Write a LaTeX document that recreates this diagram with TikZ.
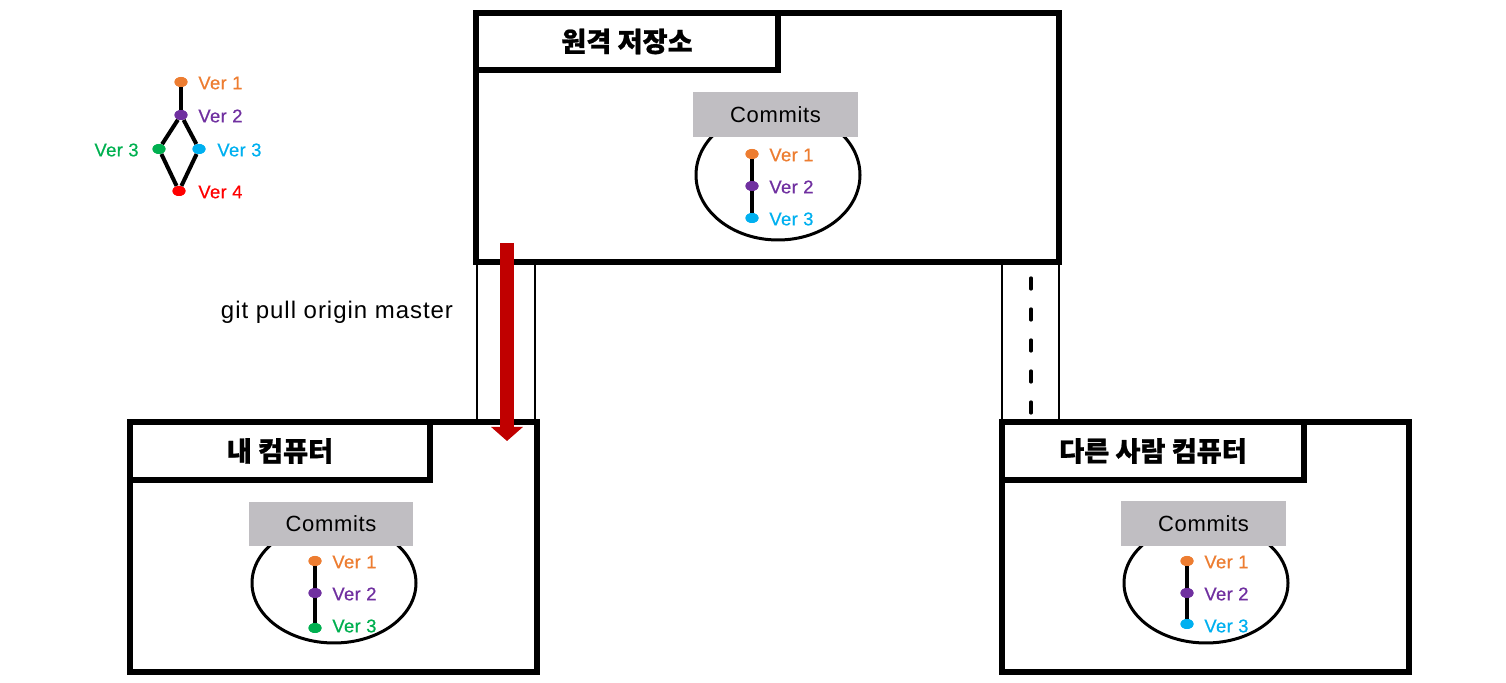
\documentclass[tikz,border=0pt]{standalone}
\usepackage{fontspec}
\setmainfont{Noto Sans CJK KR}
\newfontfamily\lat{Liberation Sans}
\usetikzlibrary{arrows.meta,shapes.geometric}
\definecolor{cOrange}{HTML}{ED7D31}
\definecolor{cPurple}{HTML}{7030A0}
\definecolor{cCyan}{HTML}{00B0F0}
\definecolor{cGreen}{HTML}{00B050}
\definecolor{cRed}{HTML}{FF0000}
\definecolor{cDark}{HTML}{C00000}
\definecolor{cGray}{HTML}{C0BEC2}
\tikzset{
  bigbox/.style={draw=black, line width=2.8pt, inner sep=0pt, outer sep=0pt, anchor=north west, fill=white},
  titlebox/.style={draw=black, line width=2.8pt, inner sep=0pt, outer sep=0pt, anchor=north west, font=\bfseries\addfontfeature{FakeBold=0.8}\fontsize{13.6}{15}\selectfont},
  pipe/.style={draw=black, line width=1.2pt, inner sep=0pt, outer sep=0pt, anchor=north west},
  commitbox/.style={fill=cGray, inner sep=0pt, minimum width=82.5pt, minimum height=22.5pt, font=\lat\addfontfeature{LetterSpace=3}\fontsize{11}{12}\selectfont},
  oval/.style={ellipse, draw=black, line width=1.5pt, inner sep=0pt, minimum width=82pt},
  dot/.style={ellipse, fill=#1, inner sep=0pt, minimum width=6.5pt, minimum height=5pt},
  ver/.style={text=#1, font=\lat\addfontfeature{FakeBold=0.6,LetterSpace=2}\fontsize{9.2}{10}\selectfont, inner sep=0pt},
  stem/.style={line width=2pt, black},
}
\begin{document}
\begin{tikzpicture}[x=0.5pt,y=-0.5pt]
\useasboundingbox (0,0) rectangle (1506,683);

% version graph (top left)
\node[dot=cOrange] (g1) at (181,82) {};
\node[dot=cPurple] (g2) at (181,115) {};
\node[dot=cGreen] (g3a) at (159,149) {};
\node[dot=cCyan] (g3b) at (199,149) {};
\node[dot=cRed] (g4) at (179,191) {};
\draw[stem] (g1) -- (g2);
\draw[stem] (g2) -- (g3a) -- (g4);
\draw[stem] (g2) -- (g3b) -- (g4);
\node[dot=cOrange] at (g1) {};
\node[dot=cPurple] at (g2) {};
\node[dot=cGreen] at (g3a) {};
\node[dot=cCyan] at (g3b) {};
\node[dot=cRed] at (g4) {};
\node[ver=cOrange, anchor=west] (gl1) at (198,83) {Ver 1};
\node[ver=cPurple, anchor=west] (gl2) at (198,116) {Ver 2};
\node[ver=cGreen, anchor=east] (gl3a) at (139,150) {Ver 3};
\node[ver=cCyan, anchor=west] (gl3b) at (217,150) {Ver 3};
\node[ver=cRed, anchor=west] (gl4) at (198,192) {Ver 4};

% pipes
\node[pipe, minimum width=29pt, minimum height=79.5pt] (pipeL) at (477,262) {};
\node[pipe, minimum width=28.5pt, minimum height=79.5pt] (pipeR) at (1002,262) {};

% remote repository
\node[bigbox, minimum width=291.5pt, minimum height=124.5pt] (remote) at (476,13) {};
\node[titlebox, minimum width=151pt, minimum height=28.5pt] (remoteT) at (476,13) {원격 저장소};
\node[oval, minimum height=65pt] (remoteO) at (778,175) {};
\node[commitbox] (remoteC) at (775.5,114.5) {Commits};
\node[dot=cOrange] (r1) at (752,154) {};
\node[dot=cPurple] (r2) at (752,186) {};
\node[dot=cCyan] (r3) at (752,218) {};
\draw[stem] (r1) -- (r3);
\node[dot=cOrange] at (r1) {};
\node[dot=cPurple] at (r2) {};
\node[dot=cCyan] at (r3) {};
\node[ver=cOrange, anchor=west] at (769,155) {Ver 1};
\node[ver=cPurple, anchor=west] at (769,187) {Ver 2};
\node[ver=cCyan, anchor=west] at (769,219) {Ver 3};

% my computer
\node[bigbox, minimum width=203.5pt, minimum height=125pt] (mine) at (130,422) {};
\node[titlebox, minimum width=150pt, minimum height=29pt] (mineT) at (130,422) {내 컴퓨터};
\node[oval, minimum height=60pt] (mineO) at (334,583) {};
\node[commitbox, minimum width=82pt, minimum height=22pt] (mineC) at (331,524) {Commits};
\node[dot=cOrange] (m1) at (315,561) {};
\node[dot=cPurple] (m2) at (315,593) {};
\node[dot=cGreen] (m3) at (315,628) {};
\draw[stem] (m1) -- (m3);
\node[dot=cOrange] at (m1) {};
\node[dot=cPurple] at (m2) {};
\node[dot=cGreen] at (m3) {};
\node[ver=cOrange, anchor=west] at (332,562) {Ver 1};
\node[ver=cPurple, anchor=west] at (332,594) {Ver 2};
\node[ver=cGreen, anchor=west] at (332,626) {Ver 3};

% other person's computer
\node[bigbox, minimum width=203.5pt, minimum height=125pt] (other) at (1002,422) {};
\node[titlebox, minimum width=151pt, minimum height=29pt] (otherT) at (1002,422) {다른 사람 컴퓨터};
\node[oval, minimum height=60pt] (otherO) at (1206,583) {};
\node[commitbox] (otherC) at (1203.5,524) {Commits};
\node[dot=cOrange] (o1) at (1187,561) {};
\node[dot=cPurple] (o2) at (1187,593) {};
\node[dot=cCyan] (o3) at (1187,624) {};
\draw[stem] (o1) -- (o3);
\node[dot=cOrange] at (o1) {};
\node[dot=cPurple] at (o2) {};
\node[dot=cCyan] at (o3) {};
\node[ver=cOrange, anchor=west] at (1204,562) {Ver 1};
\node[ver=cPurple, anchor=west] at (1204,594) {Ver 2};
\node[ver=cCyan, anchor=west] at (1204,626) {Ver 3};

% pull arrow
\coordinate (aS) at (507,243);
\coordinate (aE) at (507,441);
\draw[cDark, line width=7pt, -{Triangle[width=15.5pt,length=7pt]}] (aS) -- (aE);
\node[font=\lat\addfontfeature{LetterSpace=4}\fontsize{12}{13}\selectfont, inner sep=0pt] (pullL) at (337,312) {git pull origin master};

% dashed link
\coordinate (dS) at (1031,278);
\coordinate (dE) at (1031,415);
\draw[black, line width=1.6pt, line cap=round, dash pattern=on 5.5pt off 10pt] (dS) -- (dE);
\end{tikzpicture}
\end{document}
